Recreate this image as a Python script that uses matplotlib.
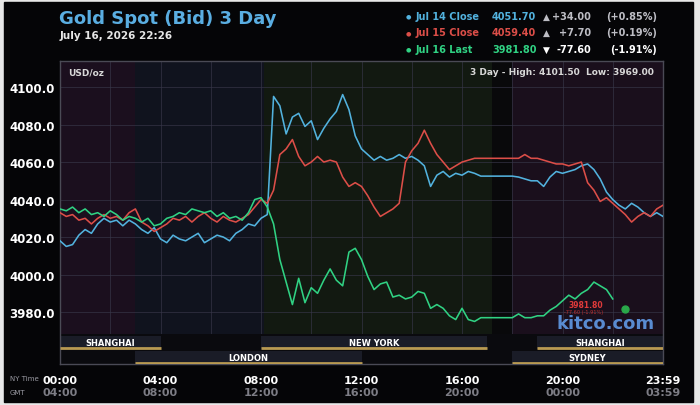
import numpy as np
import matplotlib.pyplot as plt
from matplotlib.patches import Rectangle
from matplotlib import transforms

# ---- data (15-minute steps, NY time) ----
STEP_H = 0.25
jul14_close = [
    4018, 4015, 4016, 4021, 4024, 4022, 4027, 4030, 4028, 4029, 4026, 4029,
    4027, 4024, 4022, 4025, 4019, 4017, 4021, 4019, 4018, 4020, 4022, 4017,
    4019, 4021, 4020, 4018, 4022, 4024, 4027, 4026, 4030, 4032, 4095, 4090,
    4075, 4084, 4086, 4079, 4082, 4072, 4078, 4083, 4087, 4096, 4088, 4074,
    4067, 4064, 4061, 4063, 4061, 4062, 4064, 4062, 4063, 4061, 4058, 4047,
    4053, 4055, 4052, 4054, 4053, 4055, 4054, 4052.5, 4052.5, 4052.5, 4052.5,
    4052.5, 4052.5, 4052, 4051, 4050, 4050, 4047, 4052, 4055, 4054, 4055,
    4056, 4058, 4059, 4056, 4051, 4044, 4040, 4037, 4035, 4038, 4036, 4033,
    4031, 4033, 4031,
]
jul15_close = [
    4033, 4031, 4032, 4029, 4030, 4027, 4030, 4032, 4030, 4031, 4029, 4033,
    4035, 4028, 4026, 4023, 4025, 4027, 4030, 4029, 4031, 4028, 4031, 4033,
    4030, 4028, 4031, 4029, 4028, 4030, 4032, 4036, 4040, 4038, 4045, 4064,
    4067, 4072, 4063, 4058, 4060, 4063, 4060, 4061, 4060, 4052, 4047, 4049,
    4047, 4042, 4036, 4031, 4033, 4035, 4038, 4060, 4066, 4070, 4077, 4070,
    4064, 4060, 4056, 4058, 4060, 4061, 4062, 4062, 4062, 4062, 4062, 4062,
    4062, 4062, 4064, 4062, 4062, 4061, 4060, 4059, 4059, 4058, 4059, 4060,
    4049, 4045, 4039, 4041, 4038, 4035, 4032, 4028, 4031, 4033, 4031, 4035,
    4037,
]
jul16_last = [
    4035, 4034, 4036, 4033, 4035, 4032, 4033, 4031, 4034, 4032, 4029, 4031,
    4030, 4028, 4030, 4026, 4027, 4030, 4031, 4033, 4032, 4035, 4034, 4033,
    4034, 4031, 4033, 4030, 4031, 4029, 4033, 4040, 4041, 4036, 4027, 4008,
    3996, 3984, 3998, 3985, 3993, 3990, 3997, 4003, 3997, 3994, 4012, 4014,
    4008, 3999, 3992, 3995, 3996, 3988, 3989, 3987, 3988, 3991, 3990, 3982,
    3984, 3982, 3978, 3976, 3982, 3976, 3975, 3977, 3977, 3977, 3977, 3977,
    3977, 3979, 3977, 3977, 3978, 3978, 3981, 3983, 3986, 3989, 3987, 3990,
    3992, 3996, 3994, 3992, 3987,
]
series_names = ["Jul 14 Close", "Jul 15 Close", "Jul 16 Last"]
series_last = ["4051.70", "4059.40", "3981.80"]
series_chg = ["+34.00", "+7.70", "-77.60"]
series_pct = ["(+0.85%)", "(+0.19%)", "(-1.91%)"]
series_up = [True, True, False]
last_price = 3981.80

y_ticks = [3980, 4000, 4020, 4040, 4060, 4080, 4100]
x_ticks = [0, 4, 8, 12, 16, 20, 24]
ny_labels = ["00:00", "04:00", "08:00", "12:00", "16:00", "20:00", "23:59"]
gmt_labels = ["04:00", "08:00", "12:00", "16:00", "20:00", "00:00", "03:59"]

# session bars: (name, start, end, row)
sessions = [
    ("SHANGHAI", 0, 4, 0), ("NEW YORK", 8, 17, 0), ("SHANGHAI", 19, 24, 0),
    ("LONDON", 3, 12, 1), ("SYDNEY", 18, 24, 1),
]
# background tints by time of day
bands = [(0, 3, "#1b0f1e"), (3, 8.1, "#10131e"), (8.1, 17.2, "#121911"),
         (17.2, 18, "#09090b"), (18, 24, "#1a0f1c")]

C_BLUE = "#52b2de"
C_RED = "#dc4e48"
C_GREEN = "#30d283"
colors = [C_BLUE, C_RED, C_GREEN]

W, H = 700, 406


def px(x, y):
    return x / W, 1 - y / H


fig = plt.figure(figsize=(7, 4.06), dpi=100, facecolor="#e8e8e8")
fig.patches.append(Rectangle((4 / W, 3 / H), 689 / W, 400 / H,
                             transform=fig.transFigure, color="#050507", zorder=-10))

ax = fig.add_axes([60 / W, (H - 365) / H, 603 / W, 303 / H])
ax.set_facecolor("#0b0b0f")
ax.set_xlim(0, 24)
ax.set_ylim(3952.3, 4113.9)

sess_top = (365 - 335) / 303
for x0, x1, c in bands:
    ax.axvspan(x0, x1, ymin=sess_top, ymax=1, color=c, lw=0, zorder=0)

for yv in y_ticks:
    ax.axhline(yv, xmin=0, xmax=1, color="#38374a", lw=0.7, alpha=0.65, zorder=1)
for xv in range(2, 24, 2):
    ax.axvline(xv, ymin=sess_top, ymax=1, color="#38374a", lw=0.7, alpha=0.65, zorder=1)

for vals, c in zip([jul14_close, jul15_close, jul16_last], colors):
    hrs = np.arange(len(vals)) * STEP_H
    ax.plot(hrs, vals, color=c, lw=1.15, zorder=3)

# last price marker
ax.plot(22.5, last_price, "o", color="#2aa84a", ms=5, zorder=4)
ax.text(21.6, last_price + 2.3, "3981.80", color="#e03a3a", fontsize=5.5,
        fontweight="bold", ha="right", va="center", zorder=4)
ax.text(21.6, last_price - 1.6, "-77.60 (-1.91%)", color="#c03030", fontsize=3.6,
        ha="right", va="center", zorder=4)
ax.text(0.904, 0.136, "kitco.com", transform=ax.transAxes, color="#5d93dc",
        fontsize=13, fontweight="bold", ha="center", va="center", zorder=5, alpha=0.95)

# session strip
trans = transforms.blended_transform_factory(ax.transData, ax.transAxes)
ax.add_patch(Rectangle((0, 0), 24, sess_top, transform=trans,
                       color="#0a0a0e", lw=0, zorder=1))
row_y = [(365 - 350) / 303, 0.0]
row_h = 13 / 303
for name, s0, s1, row in sessions:
    ax.add_patch(Rectangle((s0, row_y[row]), s1 - s0, row_h, transform=trans,
                           color="#1a1c27", lw=0, zorder=2))
    ax.plot([s0, s1], [row_y[row] + 0.004, row_y[row] + 0.004], transform=trans,
            color="#b99a52", lw=2, solid_capstyle="butt", zorder=3)
    ax.text((s0 + s1) / 2, row_y[row] + 0.022, name, transform=trans,
            color="white", fontsize=6, fontweight="bold", ha="center",
            va="center", zorder=4)

ax.text(0.013, 0.965, "USD/oz", transform=ax.transAxes, color="#d8d8d8",
        fontsize=6.5, fontweight="bold", va="center")
ax.text(0.985, 0.965, "3 Day - High: 4101.50  Low: 3969.00", transform=ax.transAxes,
        color="#d8d8d8", fontsize=6.5, fontweight="bold", ha="right", va="center")

ax.set_yticks(y_ticks)
ax.set_yticklabels([f"{v:.1f}" for v in y_ticks])
ax.set_xticks(x_ticks)
ax.set_xticklabels(ny_labels)
ax.tick_params(axis="y", length=0, pad=4, labelsize=8.5, labelcolor="white")
ax.tick_params(axis="x", length=0, pad=8, labelsize=8, labelcolor="white")
for lab in ax.get_xticklabels() + ax.get_yticklabels():
    lab.set_fontweight("bold")
for xv, g in zip(x_ticks, gmt_labels):
    ax.text(xv, -0.092, g, transform=trans, color="#7d7d85", fontsize=8,
            fontweight="bold", ha="center", va="center")
for sp in ax.spines.values():
    sp.set_color("#4a4a55")
    sp.set_linewidth(1)

fig.text(*px(10, 379), "NY Time", color="#9a9aa2", fontsize=5, va="center")
fig.text(*px(10, 393), "GMT", color="#9a9aa2", fontsize=5, va="center")

# header
fig.text(*px(59, 19), "Gold Spot (Bid) 3 Day", color="#5aaee2", fontsize=13,
         fontweight="bold", va="center")
fig.text(*px(60, 36), "July 16, 2026 22:26", color="#e6e6e6", fontsize=7.5,
         fontweight="bold", va="center")

for i, (nm, c) in enumerate(zip(series_names, colors)):
    yy = 17 + i * 16.5
    fig.text(*px(408, yy), "\u25cf", color=c, fontsize=4.5, ha="center", va="center")
    fig.text(*px(416, yy), nm, color=c, fontsize=7, fontweight="bold", va="center")
    fig.text(*px(492, yy), series_last[i], color=c, fontsize=7, fontweight="bold",
             va="center")
    fc = "#bdbdc4" if i < 2 else "white"
    fig.text(*px(546, yy), "\u25b2" if series_up[i] else "\u25bc", color=fc,
             fontsize=6.5, ha="center", va="center")
    fig.text(*px(591, yy), series_chg[i], color=fc, fontsize=7, fontweight="bold",
             ha="right", va="center")
    fig.text(*px(657, yy), series_pct[i], color=fc, fontsize=7, fontweight="bold",
             ha="right", va="center")

fig.savefig("out.png", dpi=100, facecolor=fig.get_facecolor())
